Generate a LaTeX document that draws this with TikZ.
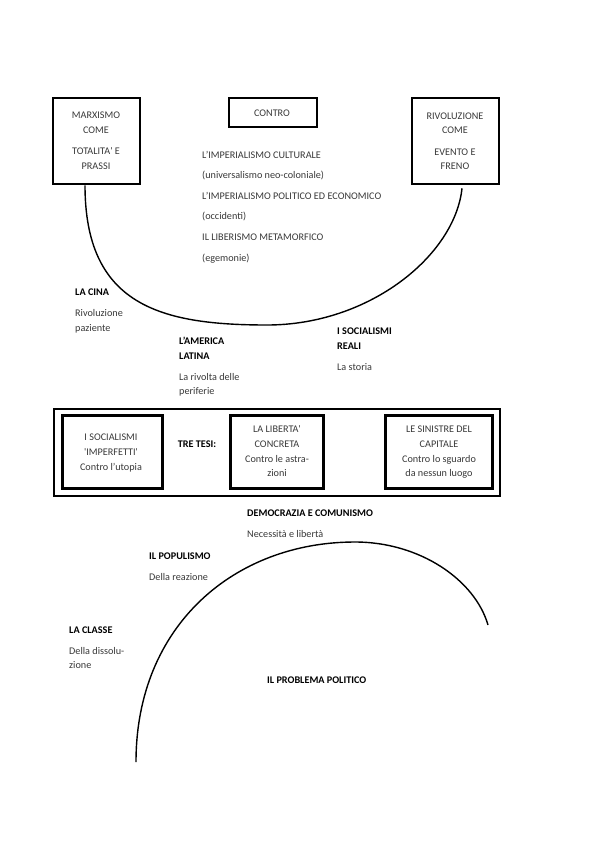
\documentclass[tikz,border=0pt]{standalone}
\usepackage{fontspec}
\setmainfont{Carlito}
\usetikzlibrary{calc}
\newcommand{\sq}{\textquotesingle}
\begin{document}
\begin{tikzpicture}[x=1pt,y=-1pt,
  txt/.style={inner sep=0pt,font=\fontsize{10.2}{12}\selectfont,text=black!78},
  lt/.style={txt,anchor=base west},
  ct/.style={txt,anchor=base},
  bt/.style={txt,anchor=base west,font=\fontsize{10.2}{12}\selectfont\bfseries,text=black},
  cbt/.style={txt,anchor=base,font=\fontsize{10.2}{12}\selectfont\bfseries,text=black},
  box/.style={draw,line width=2.6pt,inner sep=0pt},
  arcline/.style={line width=1.4pt}]
\useasboundingbox (0,0) rectangle (600,849);
% top boxes
\node[box,minimum width=87pt,minimum height=86pt] (marx) at (96.5,141) {};
\node[box,minimum width=88pt,minimum height=29pt,line width=2.2pt] (contro) at (273,112.3) {};
\node[box,minimum width=87pt,minimum height=86pt] (rivo) at (455.5,141) {};
\node[ct] (m1) at (96,118) {MARXISMO};
\node[ct] (m2) at (96,133) {COME};
\node[ct] (m3) at (96,154.5) {TOTALITA\sq{} E};
\node[ct] (m4) at (96,169) {PRASSI};
\node[ct] (c1) at (272,116) {CONTRO};
\node[ct] (r1) at (455,119) {RIVOLUZIONE};
\node[ct] (r2) at (455,133.5) {COME};
\node[ct] (r3) at (455,155) {EVENTO E};
\node[ct] (r4) at (455,169.5) {FRENO};
\node[lt] (t1) at (202,158) {L’IMPERIALISMO CULTURALE};
\node[lt] (t2) at (202,178.5) {(universalismo neo-coloniale)};
\node[lt] (t3) at (202,199.5) {L’IMPERIALISMO POLITICO ED ECONOMICO};
\node[lt] (t4) at (202,219) {(occidenti)};
\node[lt] (t5) at (202,240) {IL LIBERISMO METAMORFICO};
\node[lt] (t6) at (202,261) {(egemonie)};
% upper arc
\coordinate (a0) at ($(marx.south)+(-11.5,0)$);
\coordinate (a2) at ($(rivo.south)+(6.5,3)$);
\coordinate (a1) at (267,325);
\draw[arcline] (a0) .. controls (85,305) and (160,325) .. (a1)
  .. controls (370,325) and (455,255) .. (a2);
% labels around arc
\node[bt] (cina) at (75,295.5) {LA CINA};
\node[lt] (cina1) at (75,316.5) {Rivoluzione};
\node[lt] (cina2) at (75,331) {paziente};
\node[bt] (am1) at (179,344.5) {L’AMERICA};
\node[bt] (am2) at (179,359) {LATINA};
\node[lt] (am3) at (179,380) {La rivolta delle};
\node[lt] (am4) at (179,394) {periferie};
\node[bt] (sr1) at (337,334.5) {I SOCIALISMI};
\node[bt] (sr2) at (337,349) {REALI};
\node[lt] (sr3) at (337,370) {La storia};
% tre tesi
\node[draw,line width=2pt,inner sep=0pt,minimum width=446pt,minimum height=87pt] (outer) at (277,452.5) {};
\node[box,minimum width=100pt,minimum height=73pt] (b1) at (112.5,452) {};
\node[box,minimum width=93pt,minimum height=73pt] (b2) at (277,452) {};
\node[box,minimum width=107pt,minimum height=73pt] (b3) at (439,452) {};
\node[cbt] (tre) at (197,447) {TRE TESI:};
\node[ct] (b1a) at (111,440.5) {I SOCIALISMI};
\node[ct] (b1b) at (111,455) {\sq IMPERFETTI\sq};
\node[ct] (b1c) at (111,470) {Contro l’utopia};
\node[ct] (b2a) at (277,432.5) {LA LIBERTA\sq};
\node[ct] (b2b) at (277,447) {CONCRETA};
\node[ct] (b2c) at (277,462) {Contro le astra-};
\node[ct] (b2d) at (277,476) {zioni};
\node[ct] (b3a) at (439,432.5) {LE SINISTRE DEL};
\node[ct] (b3b) at (439,447) {CAPITALE};
\node[ct] (b3c) at (439,462) {Contro lo sguardo};
\node[ct] (b3d) at (439,476) {da nessun luogo};
% lower part
\node[bt] (dem) at (247,516.5) {DEMOCRAZIA E COMUNISMO};
\node[lt] (dem2) at (247,537) {Necessità e libertà};
\node[bt] (pop) at (149,559.5) {IL POPULISMO};
\node[lt] (pop2) at (149,580) {Della reazione};
\node[bt] (cl) at (69,633.5) {LA CLASSE};
\node[lt] (cl2) at (69,654) {Della dissolu-};
\node[lt] (cl3) at (69,668.5) {zione};
\node[bt] (prob) at (267,683.5) {IL PROBLEMA POLITICO};
% lower arc
\coordinate (l0) at (136,762);
\coordinate (l1) at (355,542);
\coordinate (l2) at (488,625);
\draw[arcline] (l0) .. controls (136,625) and (235,542) .. (l1)
  .. controls (420,542) and (475,580) .. (l2);
\end{tikzpicture}
\end{document}
